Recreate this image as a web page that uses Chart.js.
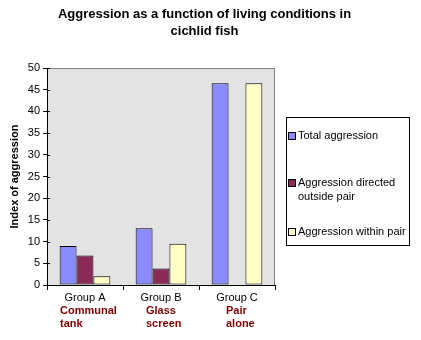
<!DOCTYPE html>
<html><head><meta charset="utf-8">
<script src="https://cdn.jsdelivr.net/npm/chart.js@4/dist/chart.umd.min.js"></script>
<style>html,body{margin:0;padding:0;background:#fff;}canvas{display:block;}</style>
</head><body>
<canvas id="c" width="421" height="340"></canvas>
<script>
const categories = ["Group A", "Group B", "Group C"];
const conditions = [["Communal", "tank"], ["Glass", "screen"], ["Pair", "alone"]];
const seriesNames = ["Total aggression", "Aggression directed outside pair", "Aggression within pair"];
const totalAggression = [9, 13.1, 46.5];
const outsidePair = [6.8, 3.8, 0];
const withinPair = [2, 9.5, 46.5];
const yMin = 0, yMax = 50, yStep = 5;
const titleLines = ["Aggression as a function of living conditions in", "cichlid fish"];
const yTitle = "Index of aggression";

const colors = ["#8a8aff", "#8c2a57", "#ffffc6"];
const FONT = "'Liberation Sans', Arial, sans-serif";

const decor = {
  id: 'decor',
  beforeDraw(chart) {
    const {ctx, chartArea: a} = chart;
    ctx.save();
    ctx.fillStyle = '#fff';
    ctx.fillRect(0, 0, chart.width, chart.height);
    ctx.fillStyle = '#e3e3e3';
    ctx.fillRect(a.left, a.top, a.right - a.left, a.bottom - a.top);
    ctx.strokeStyle = '#808080';
    ctx.lineWidth = 1;
    ctx.strokeRect(a.left + 0.5, a.top + 0.5, a.right - a.left - 1, a.bottom - a.top);
    ctx.restore();
  },
  afterDraw(chart) {
    const {ctx, chartArea: a} = chart;
    const xs = chart.scales.x, ys = chart.scales.y;
    ctx.save();
    // inner part of y tick marks (crossing the axis)
    ctx.strokeStyle = '#000';
    ctx.lineWidth = 1;
    ys.ticks.forEach(t => {
      const py = Math.round(ys.getPixelForValue(t.value)) + 0.5;
      ctx.beginPath();
      ctx.moveTo(a.left, py);
      ctx.lineTo(a.left + 3, py);
      ctx.stroke();
    });
    // condition labels under each group
    ctx.font = "bold 11px " + FONT;
    ctx.fillStyle = '#800000';
    ctx.textBaseline = 'middle';
    ctx.textAlign = 'left';
    conditions.forEach((lines, i) => {
      const cx = xs.getPixelForValue(i);
      const w = Math.max(...lines.map(l => ctx.measureText(l).width));
      lines.forEach((l, j) => ctx.fillText(l, Math.round(cx - w / 2 + 3), 311 + j * 13));
    });
    // legend box
    const bx = 286, by = 117, bw = 124, bh = 129;
    ctx.fillStyle = '#fff';
    ctx.fillRect(bx, by, bw, bh);
    ctx.strokeStyle = '#000';
    ctx.strokeRect(bx + 0.5, by + 0.5, bw - 1, bh - 1);
    ctx.font = "11px " + FONT;
    ctx.textAlign = 'left';
    ctx.textBaseline = 'middle';
    const entryY = [136, 183, 232];
    chart.data.datasets.forEach((ds, i) => {
      const words = ds.label.split(' ');
      const lines = [];
      let cur = '';
      words.forEach(wd => {
        const t = cur ? cur + ' ' + wd : wd;
        if (ctx.measureText(t).width > 112 && cur) { lines.push(cur); cur = wd; } else cur = t;
      });
      lines.push(cur);
      const y = entryY[i];
      ctx.fillStyle = ds.backgroundColor;
      ctx.fillRect(bx + 3, y - 3, 6, 6);
      ctx.strokeStyle = '#000';
      ctx.strokeRect(bx + 2.5, y - 3.5, 7, 7);
      ctx.fillStyle = '#000';
      lines.forEach((l, j) => ctx.fillText(l, bx + 12, y + j * 14));
    });
    ctx.restore();
  }
};

new Chart(document.getElementById('c'), {
  type: 'bar',
  data: {
    labels: categories,
    datasets: [
      {label: seriesNames[0], data: totalAggression, backgroundColor: colors[0]},
      {label: seriesNames[1], data: outsidePair, backgroundColor: colors[1]},
      {label: seriesNames[2], data: withinPair, backgroundColor: colors[2]}
    ]
  },
  options: {
    responsive: false,
    animation: false,
    devicePixelRatio: 1,
    layout: {padding: {left: 0, right: 12, top: 0, bottom: 36}},
    datasets: {bar: {borderColor: '#000', borderWidth: 1, borderSkipped: false,
      categoryPercentage: 0.667, barPercentage: 1.0}},
    plugins: {
      legend: {display: false},
      tooltip: {enabled: false},
      title: {display: true, text: titleLines, color: '#000',
        font: {family: FONT, size: 13, weight: 'bold', lineHeight: 1.31},
        padding: {top: 5.5, bottom: 28.5}}
    },
    scales: {
      x: {
        offset: true,
        grid: {offset: true, drawOnChartArea: false, color: '#000', tickLength: 5},
        border: {color: '#000'},
        ticks: {color: '#000', font: {family: FONT, size: 11}, padding: 1, maxRotation: 0},
        afterFit(s) { s.height = 19; }
      },
      y: {
        min: yMin, max: yMax,
        ticks: {stepSize: yStep, color: '#000', font: {family: FONT, size: 11}, padding: 3},
        grid: {drawOnChartArea: false, color: '#000', tickLength: 4},
        border: {color: '#000'},
        title: {display: true, text: yTitle, color: '#000',
          font: {family: FONT, size: 11, weight: 'bold'}, padding: {top: 8, bottom: 0}},
        afterFit(s) { s.width = 47; }
      },
      legendSpace: {
        type: 'linear', position: 'right', display: true,
        grid: {display: false, drawTicks: false}, border: {display: false},
        ticks: {display: false},
        afterFit(s) { s.width = 134; }
      }
    }
  },
  plugins: [decor]
});
</script>
</body></html>
